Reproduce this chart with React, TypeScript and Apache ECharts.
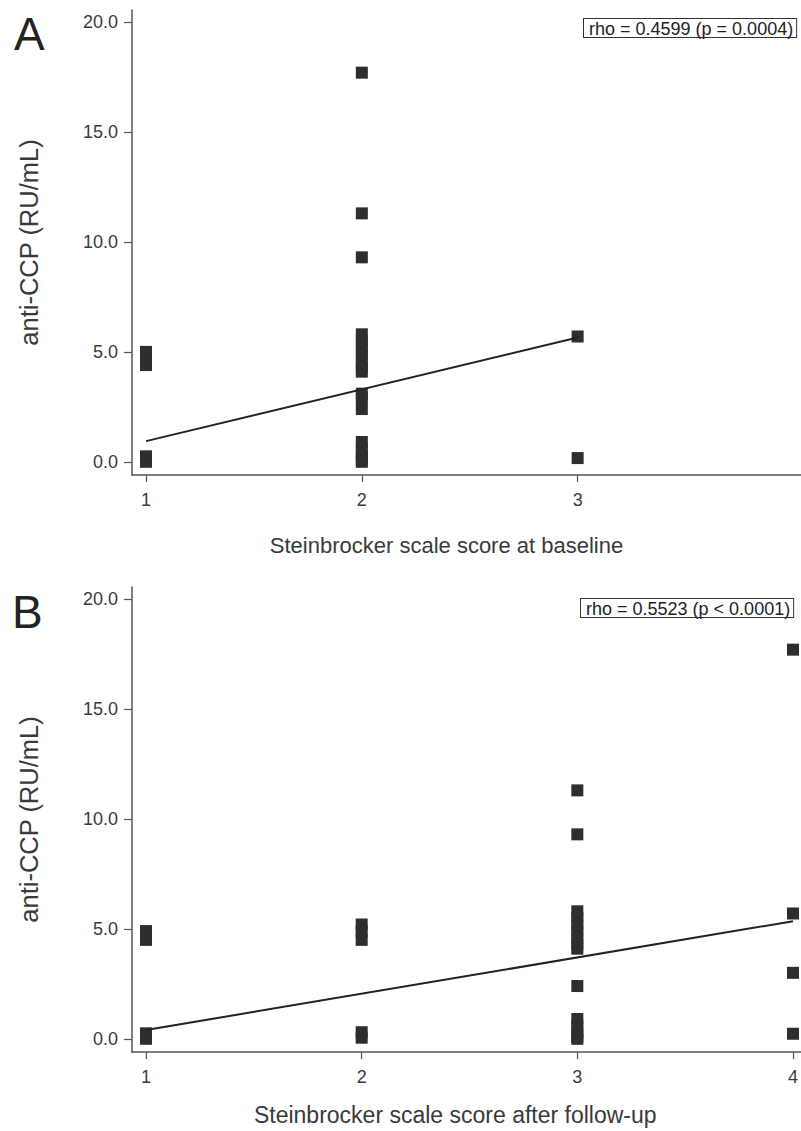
import { useEffect, useRef } from "react";
import * as echarts from "echarts";

// ---- Data ----
const panelLabels = ["A", "B"];
const yTitle = "anti-CCP (RU/mL)";
const xTitles = [
  "Steinbrocker scale score at baseline",
  "Steinbrocker scale score after follow-up",
];
const rhoTexts = ["rho = 0.4599 (p = 0.0004)", "rho = 0.5523 (p < 0.0001)"];
const yTicks = [0, 5, 10, 15, 20];
const xTicksA = [1, 2, 3];
const xTicksB = [1, 2, 3, 4];

// Panel A: anti-CCP by baseline Steinbrocker score
const baselineScores = [1, 2, 3];
const baselineScore1 = [5.0, 4.7, 4.4, 0.25, 0.0];
const baselineScore2 = [
  17.7, 11.3, 9.3, 5.8, 5.5, 5.2, 4.9, 4.6, 4.3, 4.1, 3.1, 2.9, 2.4, 0.9, 0.6,
  0.3, 0.1, 0.0,
];
const baselineScore3 = [5.7, 0.17];
const trendAx = [1, 3];
const trendAy = [0.94, 5.65];

// Panel B: anti-CCP by follow-up Steinbrocker score
const followScores = [1, 2, 3, 4];
const followScore1 = [4.9, 4.5, 0.25, 0.0];
const followScore2 = [5.2, 4.9, 4.5, 0.3, 0.05];
const followScore3 = [
  11.3, 9.3, 5.8, 5.5, 5.2, 4.9, 4.6, 4.3, 4.1, 2.4, 0.9, 0.6, 0.3, 0.1, 0.0,
];
const followScore4 = [17.7, 5.7, 3.0, 0.23];
const trendBx = [1, 4];
const trendBy = [0.4, 5.35];

const FONT = "'Liberation Sans', Arial, Helvetica, sans-serif";
const AXIS_COLOR = "#555";
const TEXT_COLOR = "#3a3a3a";
const MARK_COLOR = "#2e2e2e";

export default function App() {
  const ref = useRef<HTMLDivElement>(null);

  useEffect(() => {
    document.body.style.margin = "0";
    if (!ref.current) return;
    const chart = echarts.init(ref.current, null, { renderer: "svg" });

    const groupsA = [baselineScore1, baselineScore2, baselineScore3];
    const groupsB = [followScore1, followScore2, followScore3, followScore4];

    const scatter = (score: number, vals: number[], idx: number) => ({
      type: "scatter",
      xAxisIndex: idx,
      yAxisIndex: idx,
      symbol: "rect",
      symbolSize: 12,
      itemStyle: { color: MARK_COLOR, opacity: 1 },
      data: vals.map((v) => [score, v]),
      z: 2,
    });

    const trend = (xs: number[], ys: number[], idx: number) => ({
      type: "line",
      xAxisIndex: idx,
      yAxisIndex: idx,
      showSymbol: false,
      symbol: "none",
      lineStyle: { color: "#222", width: 2 },
      data: xs.map((x, i) => [x, ys[i]]),
      z: 3,
    });

    const makeX = (idx: number, ticks: number[], name: string, gap: number, padRight: number, fs: number) => ({
      type: "value",
      gridIndex: idx,
      min: 0.935,
      max: 4.035,
      splitLine: { show: false },
      axisLine: { show: true, onZero: false, lineStyle: { color: AXIS_COLOR, width: 1.5 } },
      axisTick: { show: true, length: 7, customValues: ticks, lineStyle: { color: AXIS_COLOR, width: 1.2 } },
      axisLabel: {
        customValues: ticks,
        fontSize: 18,
        margin: 16,
        color: TEXT_COLOR,
        fontFamily: FONT,
        formatter: (v: number) => String(v),
      },
      name,
      nameLocation: "middle",
      nameGap: gap,
      nameTextStyle: {
        fontSize: fs,
        color: TEXT_COLOR,
        fontFamily: FONT,
        padding: [0, padRight, 0, 0],
      },
    });

    const makeY = (idx: number) => ({
      type: "value",
      gridIndex: idx,
      min: -0.6,
      max: 20.55,
      splitLine: { show: false },
      axisLine: { show: true, onZero: false, lineStyle: { color: AXIS_COLOR, width: 1.5 } },
      axisTick: { show: true, length: 8, customValues: yTicks, lineStyle: { color: AXIS_COLOR, width: 1.2 } },
      axisLabel: {
        customValues: yTicks,
        fontSize: 18,
        margin: 14,
        color: TEXT_COLOR,
        fontFamily: FONT,
        formatter: (v: number) => v.toFixed(1),
      },
      name: yTitle,
      nameLocation: "middle",
      nameGap: 90,
      nameTextStyle: { fontSize: 25.5, color: TEXT_COLOR, fontFamily: FONT },
    });

    const rhoBox = (text: string, x: number, y: number) => ({
      type: "text",
      left: x,
      top: y,
      style: {
        text,
        font: `18px ${FONT}`,
        fill: "#222",
        backgroundColor: "#fff",
        borderColor: "#333",
        borderWidth: 1,
        padding: [1, 3, 0, 5],
        lineHeight: 17,
      },
      z: 10,
    });

    const panelLabel = (text: string, x: number, y: number) => ({
      type: "text",
      x,
      y,
      style: {
        text,
        font: `46px ${FONT}`,
        fill: "#222",
        textVerticalAlign: "middle",
        verticalAlign: "middle",
      },
    });

    chart.setOption({
      animation: false,
      backgroundColor: "#fff",
      grid: [
        { left: 132, top: 10, width: 669, height: 465 },
        { left: 132, top: 587, width: 669, height: 465 },
      ],
      xAxis: [
        makeX(0, xTicksA, xTitles[0], 59, 40, 22),
        makeX(1, xTicksB, xTitles[1], 51, 22, 23),
      ],
      yAxis: [makeY(0), makeY(1)],
      series: [
        ...groupsA.map((g, i) => scatter(baselineScores[i], g, 0)),
        trend(trendAx, trendAy, 0),
        ...groupsB.map((g, i) => scatter(followScores[i], g, 1)),
        trend(trendBx, trendBy, 1),
      ],
      graphic: [
        panelLabel(panelLabels[0], 14, 34),
        panelLabel(panelLabels[1], 12, 612),
        rhoBox(rhoTexts[0], 583, 18),
        rhoBox(rhoTexts[1], 580, 598),
      ],
    });

    return () => chart.dispose();
  }, []);

  return <div ref={ref} style={{ width: 801, height: 1131 }} />;
}
